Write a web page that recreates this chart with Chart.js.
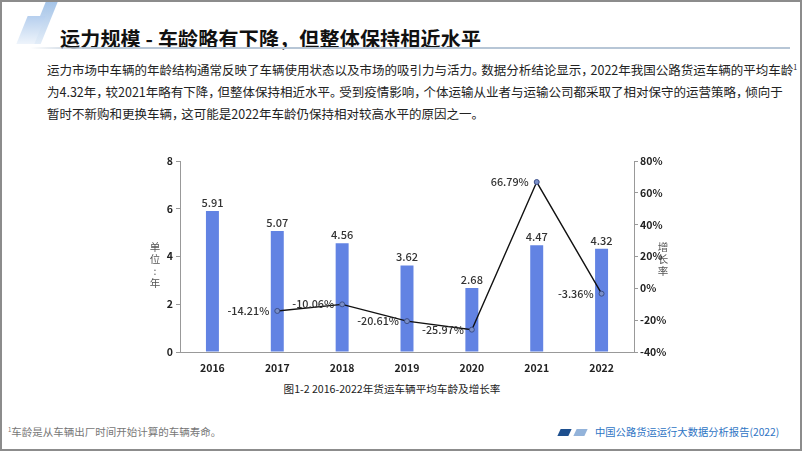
<!DOCTYPE html>
<html>
<head>
<meta charset="utf-8">
<script src="https://cdn.jsdelivr.net/npm/chart.js@4.4.1/dist/chart.umd.min.js"></script>
<style>
  html, body { margin: 0; padding: 0; background: #fff; }
  body { width: 802px; height: 451px; position: relative; overflow: hidden;
         font-family: "Noto Sans CJK SC", "Noto Sans", sans-serif; color: #222; }
  .frame { position: absolute; left: 0; top: 0; width: 802px; height: 451px;
           box-sizing: border-box; border: 2px solid #8c8c8c; pointer-events: none; }
  .slash { position: absolute; transform: skewX(-22deg); }
  .title { position: absolute; left: 60px; top: 24px; font-size: 20px; font-weight: bold;
           color: #111; white-space: nowrap; letter-spacing: 0.2px; }
  .rule { position: absolute; left: 30px; top: 47px; width: 760px; height: 2px;
          background: linear-gradient(to right, rgba(184,200,216,0) 0%, #b7c6d6 8%, #b7c6d6 100%); }
  .para { position: absolute; left: 47px; top: 56px; font-size: 12.5px; line-height: 22px;
          color: #222; white-space: nowrap; font-feature-settings: "halt"; }
  .para .p { margin-right: 3px; }
  .para sup { font-size: 7px; vertical-align: 5px; }
  .vt { position: absolute; font-size: 10.5px; line-height: 12px; color: #555; width: 14px; text-align: center; }
  .caption { position: absolute; left: 0; width: 784px; top: 381px; text-align: center;
             font-size: 10.6px; color: #222; }
  .foot { position: absolute; left: 8px; top: 424px; font-size: 10.5px; color: #777; }
  .foot sup { font-size: 6px; vertical-align: 4px; }
  .brand { position: absolute; left: 595px; top: 424px; font-size: 10.3px; color: #2e74c4; white-space: nowrap; }
  .tag { position: absolute; top: 429px; width: 11px; height: 7px; transform: skewX(-25deg); }
  #wrap { position: absolute; left: 140px; top: 150px; width: 540px; height: 225px; }
</style>
</head>
<body>
<div class="slash" style="left:38px;top:-2px;width:12px;height:46px;background:linear-gradient(to bottom,#9fc0e6,#e3edf8);"></div>
<div class="slash" style="left:22px;top:16px;width:18px;height:28px;background:linear-gradient(to bottom,#b6cfee,#eef4fb);"></div>
<div class="title">运力规模 - 车龄略有下降，但整体保持相近水平</div>
<div class="rule"></div>
<div class="para">运力市场中车辆的年龄结构通常反映了车辆使用状态以及市场的吸引力与活力。<span class="p"></span>数据分析结论显示，<span class="p"></span>2022年我国公路货运车辆的平均车龄<sup>1</sup><br>为4.32年，<span class="p"></span>较2021年略有下降，<span class="p"></span>但整体保持相近水平。<span class="p"></span>受到疫情影响，<span class="p"></span>个体运输从业者与运输公司都采取了相对保守的运营策略，<span class="p"></span>倾向于<br>暂时不新购和更换车辆，<span class="p"></span>这可能是2022年车龄仍保持相对较高水平的原因之一。</div>

<div id="wrap"><canvas id="chart"></canvas></div>
<div class="vt" style="left:148px;top:241px;">单<br>位<br>:<br>年</div>
<div class="vt" style="left:656px;top:241px;">增<br>长<br>率</div>

<div class="caption">图1-2 2016-2022年货运车辆平均车龄及增长率</div>
<div class="foot"><sup>1</sup>车龄是从车辆出厂时间开始计算的车辆寿命。</div>
<div class="tag" style="left:559px;background:#1d4f8e;"></div>
<div class="tag" style="left:575px;background:#93b3da;"></div>
<div class="brand">中国公路货运运行大数据分析报告(2022)</div>
<div class="frame"></div>

<script>
  // chart data
  var years = ['2016', '2017', '2018', '2019', '2020', '2021', '2022'];
  var avgAge = [5.91, 5.07, 4.56, 3.62, 2.68, 4.47, 4.32];
  var growth = [null, -14.21, -10.06, -20.61, -25.97, 66.79, -3.36];
  var ageTicks = [0, 2, 4, 6, 8];
  var growthTicks = [-40, -20, 0, 20, 40, 60, 80];

  var tickFont = { family: '"Noto Sans CJK SC", sans-serif', size: 10.5, weight: 'bold' };

  // value labels: bar values above bars, growth rates left of points
  var valueLabels = {
    id: 'valueLabels',
    afterDatasetsDraw: function(chart) {
      var ctx = chart.ctx;
      ctx.save();
      ctx.fillStyle = '#333';
      ctx.font = '500 11px "Noto Sans CJK SC", sans-serif';
      ctx.textAlign = 'center';
      ctx.textBaseline = 'bottom';
      chart.getDatasetMeta(1).data.forEach(function(bar, i) {
        ctx.fillText(avgAge[i].toFixed(2), bar.x, bar.y - 3);
      });
      ctx.font = '500 10.8px "Noto Sans CJK SC", sans-serif';
      ctx.textAlign = 'right';
      ctx.textBaseline = 'middle';
      chart.getDatasetMeta(0).data.forEach(function(pt, i) {
        if (growth[i] === null) return;
        ctx.fillText(growth[i].toFixed(2) + '%', pt.x - 8, pt.y);
      });
      ctx.restore();
    }
  };

  new Chart(document.getElementById('chart'), {
    data: {
      labels: years,
      datasets: [{
        type: 'line',
        data: growth,
        yAxisID: 'y1',
        borderColor: '#111',
        borderWidth: 1.4,
        pointRadius: 2.5,
        pointBackgroundColor: '#7a8fc8',
        pointBorderColor: '#3c4f8a',
        pointBorderWidth: 1,
        tension: 0,
        order: 0
      }, {
        type: 'bar',
        data: avgAge,
        yAxisID: 'y',
        backgroundColor: '#6283e3',
        categoryPercentage: 1,
        barPercentage: 0.2,
        order: 1
      }]
    },
    options: {
      responsive: true,
      maintainAspectRatio: false,
      animation: false,
      layout: { padding: { top: 11, left: 0, right: 0, bottom: 0 } },
      plugins: { legend: { display: false }, tooltip: { enabled: false } },
      scales: {
        x: {
          offset: true,
          grid: { display: false },
          border: { color: '#999' },
          ticks: { color: '#222', font: tickFont, padding: 2 },
          afterFit: function(s) { s.height = 23; }
        },
        y: {
          position: 'left',
          min: 0, max: 8,
          afterBuildTicks: function(s) { s.ticks = ageTicks.map(function(v) { return { value: v }; }); },
          grid: { drawOnChartArea: false, tickLength: 4, color: '#999' },
          border: { color: '#999' },
          ticks: { color: '#222', font: tickFont, padding: 3 },
          afterFit: function(s) { s.width = 40; }
        },
        y1: {
          position: 'right',
          min: -40, max: 80,
          afterBuildTicks: function(s) { s.ticks = growthTicks.map(function(v) { return { value: v }; }); },
          grid: { drawOnChartArea: false, tickLength: 4, color: '#999' },
          border: { color: '#999' },
          ticks: { color: '#222', font: tickFont, padding: 2,
                   callback: function(v) { return v + '%'; } },
          afterFit: function(s) { s.width = 46; }
        }
      }
    },
    plugins: [valueLabels]
  });
</script>
</body>
</html>
